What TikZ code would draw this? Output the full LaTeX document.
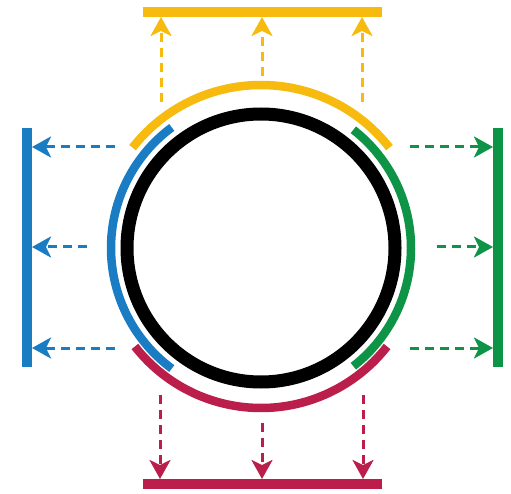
\documentclass[tikz,border=0pt]{standalone}
\usetikzlibrary{arrows.meta}
\definecolor{cyellow}{HTML}{F6BB0E}
\definecolor{cblue}{HTML}{1A7DC4}
\definecolor{cgreen}{HTML}{0E9447}
\definecolor{cred}{HTML}{BC1E4B}
\begin{document}
\begin{tikzpicture}[x=1pt,y=-1pt,
  bar/.style={line width=10pt},
  ring/.style={line width=8.5pt},
  flow/.style={line width=3pt, dash pattern=on 9pt off 6pt,
    -{Stealth[length=19pt,width=21pt,inset=5pt]}}]
\useasboundingbox (0,0) rectangle (511,494);
\coordinate (O) at (261,248);
% bars
\coordinate (ybarL) at (143,12.5); \coordinate (ybarR) at (382,12.5);
\coordinate (bbarT) at (27,128);   \coordinate (bbarB) at (27,367);
\coordinate (gbarT) at (498,128);  \coordinate (gbarB) at (498,367);
\coordinate (rbarL) at (143,483.5); \coordinate (rbarR) at (382,483.5);
\draw[bar,cyellow] (ybarL) -- (ybarR);
\draw[bar,cblue] (bbarT) -- (bbarB);
\draw[bar,cgreen] (gbarT) -- (gbarB);
\draw[bar,cred] (rbarL) -- (rbarR);
% central ring
\draw[line width=13pt] (O) circle[radius=134];
% coloured arcs
\draw[ring,cyellow] (O) ++(-142:163) arc[start angle=-142,end angle=-38,radius=163];
\draw[ring,cred] (O) ++(38:160) arc[start angle=38,end angle=142,radius=160];
\draw[ring,cblue] (O) ++(126.5:150) arc[start angle=126.5,end angle=233.5,radius=150];
\draw[ring,cgreen] (O) ++(-52:150) arc[start angle=-52,end angle=52,radius=150];
% arrow end points
\coordinate (ya1) at (161,102); \coordinate (yb1) at (161,17);
\coordinate (ya2) at (262,76);  \coordinate (yb2) at (262,17);
\coordinate (ya3) at (362,102); \coordinate (yb3) at (362,17);
\coordinate (ba1) at (115,147); \coordinate (bb1) at (32,147);
\coordinate (ba2) at (87,247);  \coordinate (bb2) at (32,247);
\coordinate (ba3) at (115,348); \coordinate (bb3) at (32,348);
\coordinate (ga1) at (410,147); \coordinate (gb1) at (493,147);
\coordinate (ga2) at (437,247); \coordinate (gb2) at (493,247);
\coordinate (ga3) at (410,348); \coordinate (gb3) at (493,348);
\coordinate (ra1) at (160,395); \coordinate (rb1) at (160,479);
\coordinate (ra2) at (262,423); \coordinate (rb2) at (262,479);
\coordinate (ra3) at (363,395); \coordinate (rb3) at (363,479);
\foreach \i in {1,2,3}{
  \draw[flow,cyellow] (ya\i) -- (yb\i);
  \draw[flow,cblue] (ba\i) -- (bb\i);
  \draw[flow,cgreen] (ga\i) -- (gb\i);
  \draw[flow,cred] (ra\i) -- (rb\i);
}
\end{tikzpicture}
\end{document}
